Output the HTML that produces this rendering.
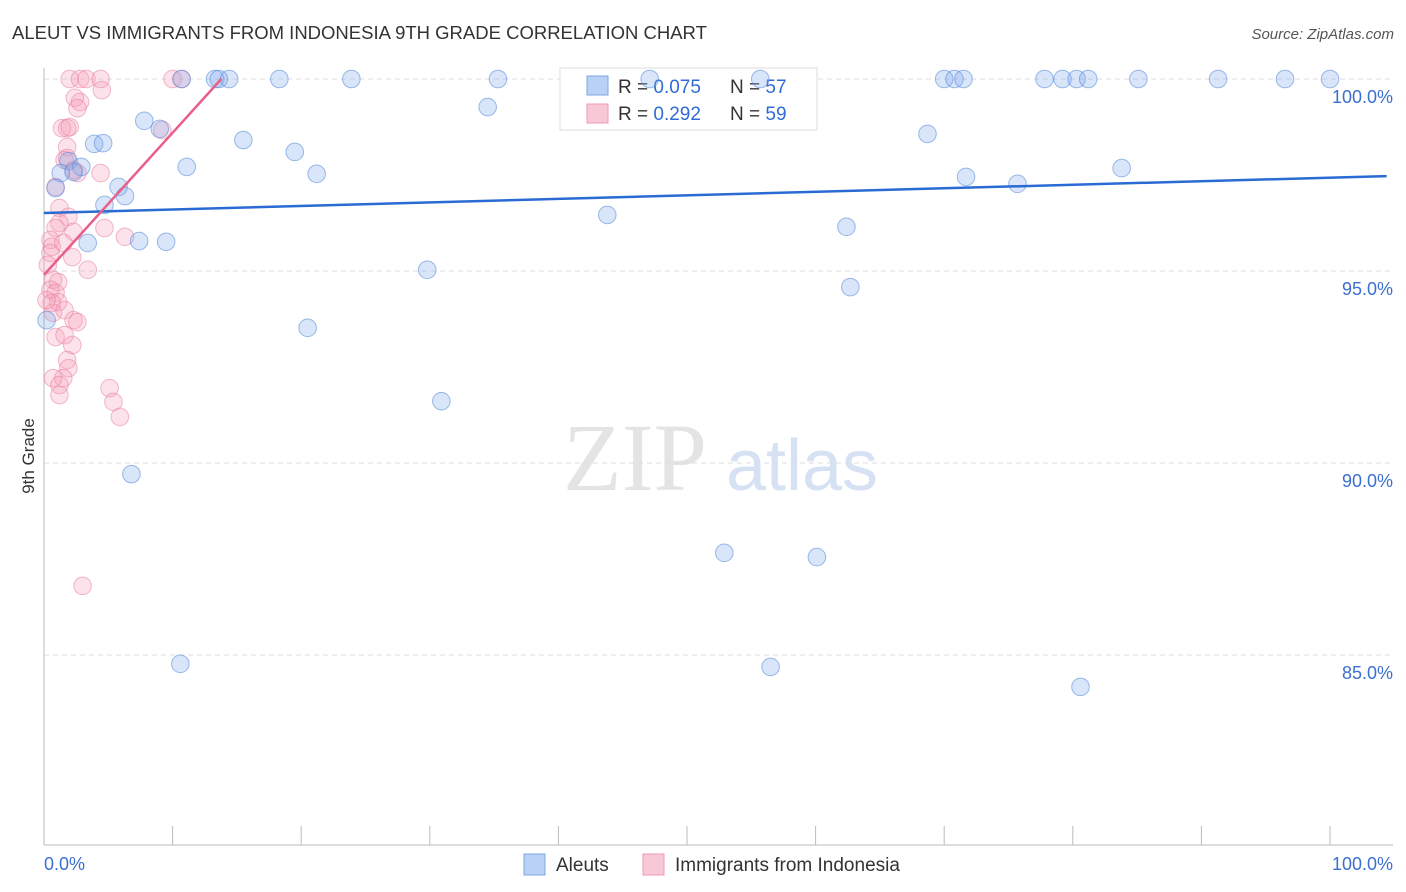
<!DOCTYPE html>
<html><head><meta charset="utf-8"><style>
body{margin:0;background:#fff;font-family:"Liberation Sans",sans-serif}
svg{display:block}
</style></head><body>
<svg id="chart" width="1406" height="892">
<text x="12" y="39" font-size="18.5" fill="#333">ALEUT VS IMMIGRANTS FROM INDONESIA 9TH GRADE CORRELATION CHART</text>
<text x="1394" y="39" font-size="15" fill="#555" font-style="italic" text-anchor="end">Source: ZipAtlas.com</text>
<g><text x="635" y="490" font-size="96" font-family="Liberation Serif,serif" fill="#e4e4e4" text-anchor="middle">ZIP</text><text x="802" y="490" font-size="72" fill="#d6e2f4" text-anchor="middle">atlas</text></g>
<text x="34" y="456" font-size="17" fill="#333" text-anchor="middle" transform="rotate(-90 34 456)">9th Grade</text>
<g id="grid"></g>
<g>
<rect x="560" y="68" width="257" height="62" fill="#fff" stroke="#ddd"/>
<rect x="587" y="76" width="21" height="19" fill="#b9d1f5" stroke="#7ea6e6"/>
<text x="618" y="93" font-size="19" fill="#333">R = <tspan fill="#2f6bd6">0.075</tspan></text>
<text x="730" y="93" font-size="19" fill="#333">N = <tspan fill="#2f6bd6">57</tspan></text>
<rect x="587" y="104" width="21" height="19" fill="#f9c8d6" stroke="#ee9ab3"/>
<text x="618" y="120" font-size="19" fill="#333">R = <tspan fill="#2f6bd6"> 0.292</tspan></text>
<text x="730" y="120" font-size="19" fill="#333">N = <tspan fill="#2f6bd6">59</tspan></text>
</g>
<g id="marks"></g>
<g>
<rect x="524" y="854" width="21" height="21" fill="#b9d1f5" stroke="#7ea6e6"/>
<text x="556" y="871" font-size="19" fill="#333">Aleuts</text>
<rect x="643" y="854" width="21" height="21" fill="#f9c8d6" stroke="#ee9ab3"/>
<text x="675" y="871" font-size="19" fill="#333">Immigrants from Indonesia</text>
</g>
</svg>
<script>
const blueX=[10.7,13.3,13.6,14.4,18.3,23.9,35.3,47.1,55.7,70.0,70.8,71.5,77.8,79.2,80.3,81.2,85.1,91.3,96.5,100,34.5,7.8,9.0,3.9,4.6,15.5,68.7,19.5,1.9,2.9,11.1,1.3,2.3,21.2,71.7,0.9,5.8,75.7,83.8,6.3,4.7,43.8,62.4,7.4,9.5,3.4,29.8,62.7,0.2,20.5,30.9,6.8,52.9,60.1,10.6,56.5,80.6];
const blueY=[100,100,100,100,100,100,100,100,100,100,100,100,100,100,100,100,100,100,100,100,99.27,98.91,98.70,98.31,98.33,98.41,98.57,98.10,97.86,97.71,97.71,97.55,97.58,97.53,97.45,97.16,97.19,97.27,97.68,96.95,96.72,96.46,96.15,95.78,95.76,95.73,95.03,94.58,93.72,93.52,91.61,89.71,87.66,87.55,84.77,84.69,84.17];
const pinkX=[2.0,2.8,3.3,4.4,10.0,10.7,4.5,2.4,2.8,2.6,1.4,1.8,2.0,9.2,1.8,1.8,1.6,2.6,4.4,2.3,0.9,1.2,1.9,1.2,2.3,4.7,6.3,0.9,0.5,0.6,1.5,0.5,2.2,3.4,0.7,1.1,0.5,0.9,1.1,0.6,0.7,1.6,2.3,2.6,0.9,1.6,2.2,1.8,1.9,1.5,0.7,1.2,1.2,5.1,5.4,5.9,3.0,0.3,0.2];
const pinkY=[100,100,100,100,100,100,99.71,99.51,99.40,99.24,98.72,98.72,98.75,98.67,98.23,97.94,97.89,97.55,97.55,97.63,97.19,96.64,96.41,96.25,96.02,96.12,95.89,96.12,95.81,95.63,95.73,95.47,95.36,95.03,94.77,94.71,94.51,94.43,94.19,94.17,93.91,93.98,93.72,93.67,93.28,93.33,93.07,92.68,92.47,92.21,92.21,92.03,91.77,91.95,91.59,91.20,86.80,95.16,94.24];
const blueTrend=[96.51,0.0092,0,104.4];
const pinkTrend=[94.9,0.37,0,13.8];
const yTicks=[100,95,90,85];
const xTicks=[0,10,20,30,40,50,60,70,80,90,100];
const NS='http://www.w3.org/2000/svg';
const sx=v=>44+v*12.86, sy=v=>79+(100-v)*38.4;
function mk(tag,attrs,parent){const e=document.createElementNS(NS,tag);for(const k in attrs)e.setAttribute(k,attrs[k]);parent.appendChild(e);return e;}
const grid=document.getElementById('grid'),marks=document.getElementById('marks');
yTicks.forEach(t=>{
 const l=mk('line',{x1:44,x2:1393,y1:sy(t),y2:sy(t),stroke:'#ddd','stroke-dasharray':'5,4'},grid);
 
 
 const tx=mk('text',{x:1393,y:sy(t)+24,'font-size':18,fill:'#3b6fd0','text-anchor':'end'},grid);
 tx.textContent=t.toFixed(1)+'%';
 
 
});
const ax=mk('line',{x1:44,x2:44,y1:68,y2:845,stroke:'#bbb'},grid);


const bx=mk('line',{x1:44,x2:1393,y1:845,y2:845,stroke:'#bbb'},grid);


xTicks.forEach(t=>{
 const l=mk('line',{x1:sx(t),x2:sx(t),y1:826,y2:845,stroke:'#bbb'},grid);
 
 
});
[[0,'0.0%','start',44],[100,'100.0%','end',1393]].forEach(a=>{
 const tx=mk('text',{x:a[3],y:870,'font-size':18,fill:'#3b6fd0','text-anchor':a[2]},grid);
 tx.textContent=a[1];
 
 
});
function pts(X,Y,fill,stroke,name){X.forEach((x,i)=>{
 const c=mk('circle',{cx:sx(x),cy:sy(Y[i]),r:8.8,fill:fill,stroke:stroke,'stroke-width':1},marks);
 
 
});}
pts(pinkX,pinkY,'rgba(244,160,185,0.3)','rgba(232,130,160,0.55)','indonesia-point');
pts(blueX,blueY,'rgba(130,170,235,0.3)','rgba(80,135,215,0.55)','aleut-point');
function trend(T,col,name){
 const l=mk('line',{x1:sx(T[2]),y1:sy(T[0]+T[1]*T[2]),x2:sx(T[3]),y2:sy(T[0]+T[1]*T[3]),stroke:col,'stroke-width':2.5},marks);
 
 
}
trend(blueTrend,'#2a6ad4','aleut-trend-line');
trend(pinkTrend,'#e8608a','indonesia-trend-line');
</script>
</body></html>
